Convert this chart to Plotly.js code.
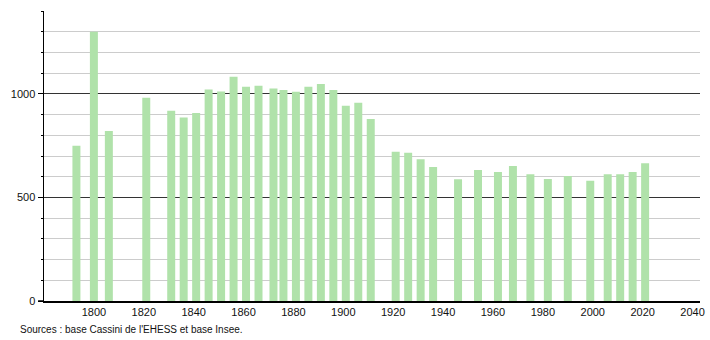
<!DOCTYPE html>
<html>
<head>
<meta charset="utf-8">
<script src="https://cdn.plot.ly/plotly-3.0.1.min.js"></script>
<style>
  html, body { margin: 0; padding: 0; background: #fff; }
  #chart { width: 710px; height: 340px; }
</style>
</head>
<body>
<div id="chart"></div>
<script>
const years = [1793, 1800, 1806, 1821, 1831, 1836, 1841, 1846, 1851, 1856, 1861, 1866, 1872, 1876, 1881, 1886, 1891, 1896, 1901, 1906, 1911, 1921, 1926, 1931, 1936, 1946, 1954, 1962, 1968, 1975, 1982, 1990, 1999, 2006, 2011, 2016, 2021];
const population = [750, 1300, 821, 981, 918, 886, 907, 1021, 1011, 1082, 1034, 1039, 1026, 1019, 1010, 1034, 1047, 1019, 942, 957, 879, 720, 716, 684, 647, 588, 633, 623, 652, 612, 589, 604, 580, 612, 612, 623, 665];
const xTicks = [1800, 1820, 1840, 1860, 1880, 1900, 1920, 1940, 1960, 1980, 2000, 2020, 2040];
const yTicks = [0, 500, 1000];
const sourceText = "Sources : base Cassini de l'EHESS et base Insee.";

const trace = {
  type: 'bar',
  x: years,
  y: population,
  width: years.map(() => 3.2),
  marker: { color: '#b0e2aa', line: { width: 0 } },
  hoverinfo: 'x+y'
};

const layout = {
  width: 710,
  height: 340,
  margin: { l: 44, r: 10, t: 11, b: 39 },
  paper_bgcolor: '#ffffff',
  plot_bgcolor: '#ffffff',
  showlegend: false,
  font: { family: 'Liberation Sans, Arial, sans-serif', size: 11, color: '#111' },
  xaxis: {
    range: [1780, 2043],
    tickmode: 'array',
    tickvals: xTicks,
    ticktext: xTicks.map(String),
    ticks: '',
    showgrid: false,
    zeroline: false,
    showline: true,
    linecolor: '#000',
    linewidth: 1.5,
    tickfont: { size: 11, color: '#111' }
  },
  yaxis: {
    range: [0, 1400],
    tickmode: 'array',
    tickvals: yTicks,
    ticktext: yTicks.map(String),
    ticks: 'outside',
    ticklen: 5,
    tickcolor: '#000',
    showgrid: true,
    gridcolor: '#333',
    gridwidth: 1,
    zeroline: false,
    showline: true,
    linecolor: '#000',
    linewidth: 1.5,
    tickfont: { size: 11, color: '#111' },
    minor: {
      tickmode: 'linear',
      tick0: 0,
      dtick: 100,
      ticks: 'outside',
      ticklen: 2,
      tickcolor: '#000',
      showgrid: true,
      gridcolor: '#cccccc',
      gridwidth: 1
    }
  },
  shapes: [
    { type: 'line', xref: 'paper', yref: 'paper', x0: -0.009, x1: 0, y0: 0, y1: 0, line: { color: '#000', width: 1.5 } }
  ],
  annotations: [
    { text: sourceText, xref: 'paper', yref: 'paper', x: -0.040, y: -0.097, xanchor: 'left', yanchor: 'middle', showarrow: false, font: { size: 10, color: '#111' } }
  ]
};

Plotly.newPlot('chart', [trace], layout, { displayModeBar: false, staticPlot: true });
</script>
</body>
</html>
